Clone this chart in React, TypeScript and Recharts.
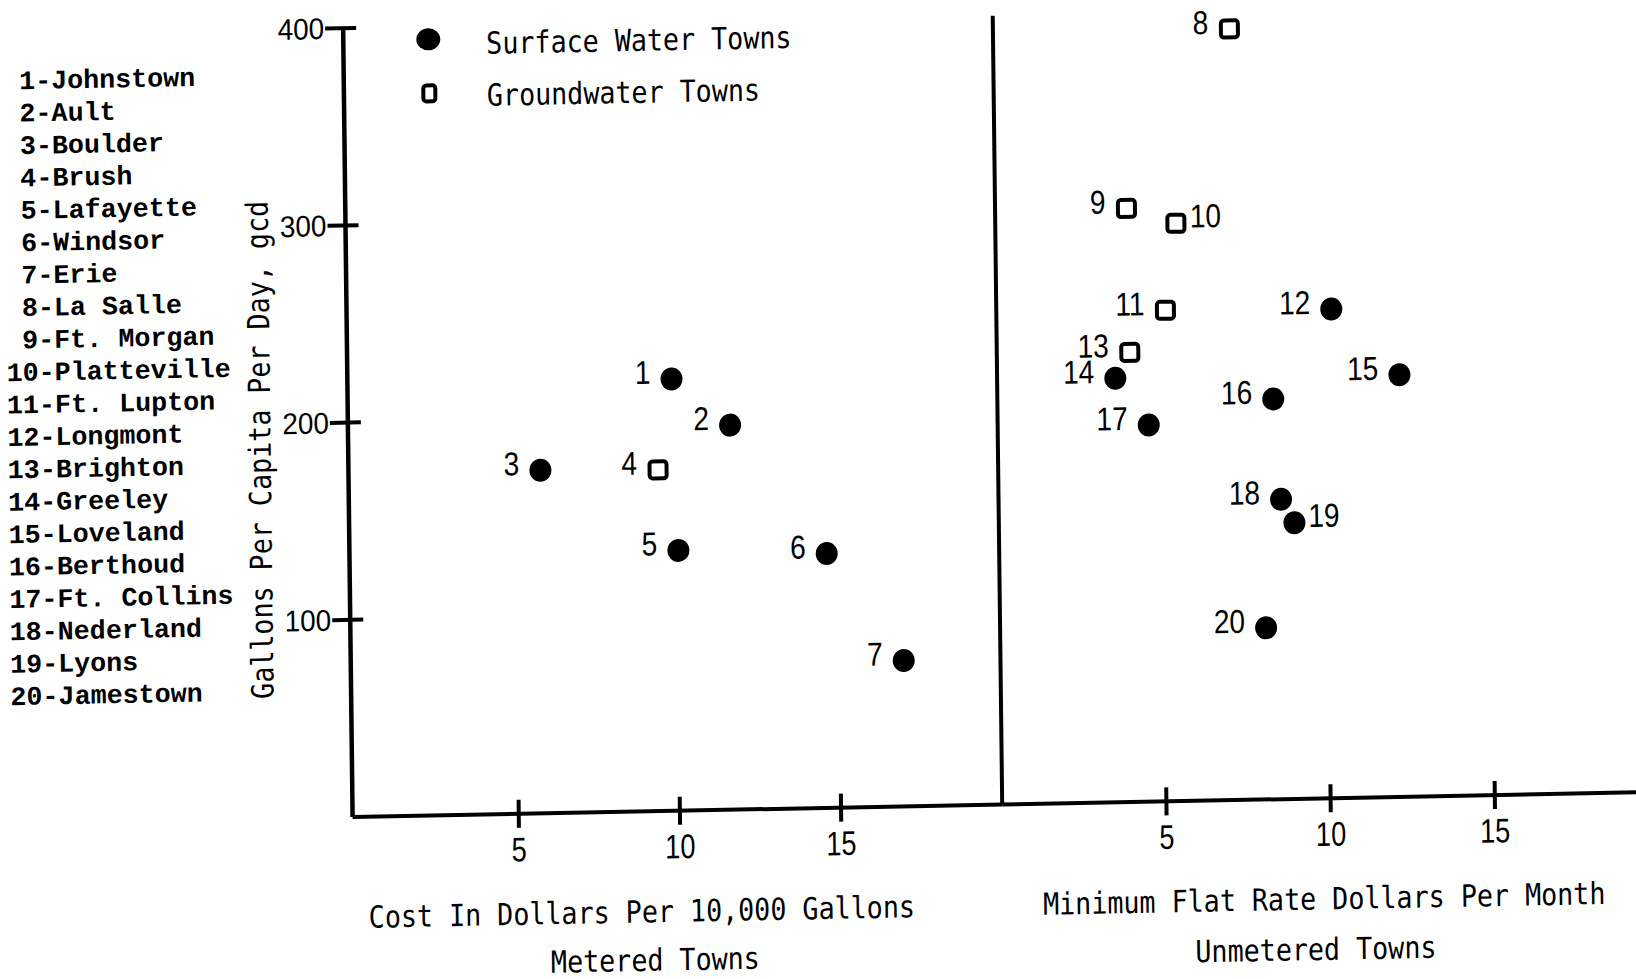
import { ScatterChart, Scatter, XAxis, YAxis, Legend } from 'recharts'

const townNames = [
  'Johnstown', 'Ault', 'Boulder', 'Brush', 'Lafayette', 'Windsor', 'Erie',
  'La Salle', 'Ft. Morgan', 'Platteville', 'Ft. Lupton', 'Longmont', 'Brighton',
  'Greeley', 'Loveland', 'Berthoud', 'Ft. Collins', 'Nederland', 'Lyons', 'Jamestown',
]

// metered towns: cost in dollars per 10,000 gallons
const meteredTowns = [1, 2, 3, 4, 5, 6, 7]
const meteredCost = [9.9, 11.7, 5.8, 9.45, 10.05, 14.65, 17.0]
const meteredGcd = [219, 195, 174, 173, 132, 129, 74]
const meteredSource = ['surface', 'surface', 'surface', 'ground', 'surface', 'surface', 'surface']

// unmetered towns: minimum flat rate, dollars per month
const flatTowns = [8, 9, 10, 11, 12, 13, 14, 15, 16, 17, 18, 19, 20]
const flatRate = [7.2, 4.0, 5.5, 5.15, 10.2, 4.05, 3.6, 12.25, 8.4, 4.6, 8.6, 9.0, 8.1]
const flatGcd = [391, 301, 293, 249, 248, 228, 215, 214, 203, 191, 152, 140, 87]
const flatSource = [
  'ground', 'ground', 'ground', 'ground', 'surface', 'ground', 'surface',
  'surface', 'surface', 'surface', 'surface', 'surface', 'surface',
]

const labelRight = [10, 19] // town numbers printed to the right of the mark
const costTicks = [5, 10, 15]
const rateTicks = [5, 10, 15]
const gcdTicks = [100, 200, 300, 400]
const seriesNames: Record<string, string> = {
  surface: 'Surface Water Towns',
  ground: 'Groundwater Towns',
}
const keyOrder = [seriesNames.surface, seriesNames.ground]

const INK = '#000'
const MONO = '"DejaVu Sans Mono", monospace'
const SANS = '"Liberation Sans", Arial, sans-serif'
const TYPEWRITER = '"Liberation Mono", monospace'

const points = (ids: number[], xs: number[], ys: number[], src: string[], kind: string) =>
  ids
    .map((town, i) => ({ town, x: xs[i], y: ys[i], source: src[i] }))
    .filter((d) => d.source === kind)

const meteredSurface = points(meteredTowns, meteredCost, meteredGcd, meteredSource, 'surface')
const meteredGround = points(meteredTowns, meteredCost, meteredGcd, meteredSource, 'ground')
const flatSurface = points(flatTowns, flatRate, flatGcd, flatSource, 'surface')
const flatGround = points(flatTowns, flatRate, flatGcd, flatSource, 'ground')

function TownMark(props: any) {
  const { cx, cy, payload } = props
  if (cx == null || cy == null) return null
  const right = labelRight.includes(payload.town)
  const lx = right ? cx + 14 : cx - 21
  return (
    <g>
      {payload.source === 'ground' ? (
        <rect x={cx - 8.5} y={cy - 8.5} width={17} height={17} rx={3} fill="#fff" stroke={INK} strokeWidth={4} />
      ) : (
        <ellipse cx={cx} cy={cy} rx={11} ry={11.5} fill={INK} />
      )}
      <text
        transform={`translate(${lx},${cy + 4.5}) scale(0.85,1)`}
        textAnchor={right ? 'start' : 'end'}
        fontFamily={SANS}
        fontSize={33}
        fill={INK}
      >
        {payload.town}
      </text>
    </g>
  )
}

function CrossTickX(props: any) {
  const { x, y, payload } = props
  return (
    <g>
      <line x1={x} x2={x} y1={y - 14} y2={y + 14} stroke={INK} strokeWidth={4} />
      <text
        transform={`translate(${x},${y + 47.5}) scale(0.8,1)`}
        textAnchor="middle"
        fontFamily={SANS}
        fontSize={34}
        fill={INK}
      >
        {payload.value}
      </text>
    </g>
  )
}

function CrossTickY(props: any) {
  const { x, y, payload } = props
  return (
    <g>
      <line x1={x - 18} x2={x + 13} y1={y} y2={y} stroke={INK} strokeWidth={4} />
      <text
        transform={`translate(${x - 19},${y + 10.5}) scale(0.93,1)`}
        textAnchor="end"
        fontFamily={SANS}
        fontSize={30}
        fill={INK}
      >
        {payload.value}
      </text>
    </g>
  )
}

const gcdTitle = (props: any) => {
  const vb = props.viewBox || { x: 293, y: 28, width: 60, height: 789 }
  const cx = vb.x - 27.6
  const cy = vb.y + vb.height / 2 + 25.6
  return (
    <text
      transform={`translate(${cx},${cy}) rotate(-90) scale(0.875,1)`}
      y={10}
      textAnchor="middle"
      fontFamily={MONO}
      fontSize={30.5}
      fill={INK}
    >
      Gallons Per Capita Per Day, gcd
    </text>
  )
}

const xTitle = (line1: string, line2: string, dx1: number, dx2: number, drop2: number) => (props: any) => {
  const vb = props.viewBox
  const mid = vb.x + vb.width / 2
  return (
    <g fontFamily={MONO} fontSize={30.5} fill={INK}>
      <text transform={`translate(${mid + dx1},${vb.y + 111}) scale(0.875,1)`} textAnchor="middle">
        {line1}
      </text>
      <text transform={`translate(${mid + dx2},${vb.y + drop2}) scale(0.875,1)`} textAnchor="middle">
        {line2}
      </text>
    </g>
  )
}

function SymbolKey(props: any) {
  const entries = [...(props.payload || [])].sort(
    (a: any, b: any) => keyOrder.indexOf(a.value) - keyOrder.indexOf(b.value),
  )
  return (
    <svg width={500} height={120} style={{ display: 'block' }}>
      {entries.map((e: any, i: number) => {
        const ground = e.value === seriesNames.ground
        const sy = 31 + 54 * i
        return (
          <g key={e.value}>
            {ground ? (
              <rect x={43 - 6} y={sy - 8} width={12} height={16} rx={3} fill="#fff" stroke={INK} strokeWidth={4} />
            ) : (
              <ellipse cx={42.6} cy={sy} rx={12} ry={11} fill={INK} />
            )}
            <text
              transform={`translate(100.5,${46.5 + 52 * i}) scale(0.875,1)`}
              fontFamily={MONO}
              fontSize={30.5}
              fill={INK}
            >
              {e.value}
            </text>
          </g>
        )
      })}
    </svg>
  )
}

function TownList() {
  return (
    <svg width={300} height={720} style={{ position: 'absolute', left: 0, top: 0 }}>
      {townNames.map((name, i) => (
        <text
          key={name}
          x={12}
          y={83 + 32.4 * i}
          fontFamily={TYPEWRITER}
          fontSize={26.7}
          fontWeight="bold"
          fill={INK}
          style={{ whiteSpace: 'pre' }}
        >
          {`${String(i + 1).padStart(2, ' ')}-${name}`}
        </text>
      ))}
    </svg>
  )
}

const axisLine = { stroke: INK, strokeWidth: 4 }

export default function App() {
  return (
    <div
      style={{
        position: 'absolute',
        left: 0,
        top: 0,
        width: 1636,
        height: 979,
        overflow: 'hidden',
        background: '#fff',
      }}
    >
      <div
        style={{
          position: 'absolute',
          left: 0,
          top: 0,
          width: 1636,
          height: 1000,
          transform: 'matrix(1, -0.0192, 0.012, 1, 0, 0)',
          transformOrigin: '352.6px 817px',
        }}
      >
        <TownList />

        <div style={{ position: 'absolute', left: 0, top: 0 }}>
          <ScatterChart width={1002.2} height={1000} margin={{ top: 28.2, right: 0, bottom: 153, left: 292.6 }}>
            <XAxis
              type="number"
              dataKey="x"
              domain={[0, 20]}
              ticks={costTicks}
              interval={0}
              padding={{ left: 5, right: 0 }}
              height={30}
              axisLine={axisLine}
              tickLine={false}
              tickSize={0}
              tickMargin={0}
              tick={(p: any) => <CrossTickX {...p} />}
              label={xTitle('Cost In Dollars Per 10,000 Gallons', 'Metered Towns', -36.8, -23.8, 159.5)}
            />
            <YAxis
              type="number"
              dataKey="y"
              domain={[0, 400]}
              ticks={gcdTicks}
              interval={0}
              width={60}
              axisLine={{ stroke: INK, strokeWidth: 4.5 }}
              tickLine={false}
              tickSize={0}
              tickMargin={0}
              tick={(p: any) => <CrossTickY {...p} />}
              label={gcdTitle}
            />
            <Legend
              layout="horizontal"
              verticalAlign="middle"
              align="center"
              content={(p: any) => <SymbolKey {...p} />}
              wrapperStyle={{ left: 395, top: 10, width: 500, height: 120 }}
            />
            <Scatter name={seriesNames.surface} data={meteredSurface} shape={TownMark} isAnimationActive={false} />
            <Scatter name={seriesNames.ground} data={meteredGround} shape={TownMark} isAnimationActive={false} />
          </ScatterChart>
        </div>

        <div style={{ position: 'absolute', left: 940, top: 0 }}>
          <ScatterChart width={696} height={1000} margin={{ top: 28.2, right: 0, bottom: 153, left: 2.2 }}>
            <XAxis
              type="number"
              dataKey="x"
              domain={[0, 19.3]}
              ticks={rateTicks}
              interval={0}
              height={30}
              axisLine={axisLine}
              tickLine={false}
              tickSize={0}
              tickMargin={0}
              tick={(p: any) => <CrossTickX {...p} />}
              label={xTitle('Minimum Flat Rate Dollars Per Month', 'Unmetered Towns', 3.9, -5, 161.5)}
            />
            <YAxis
              type="number"
              dataKey="y"
              domain={[0, 400]}
              width={60}
              axisLine={axisLine}
              tickLine={false}
              tick={false}
            />
            <Scatter name={seriesNames.surface} data={flatSurface} shape={TownMark} isAnimationActive={false} />
            <Scatter name={seriesNames.ground} data={flatGround} shape={TownMark} isAnimationActive={false} />
          </ScatterChart>
        </div>
      </div>
    </div>
  )
}
